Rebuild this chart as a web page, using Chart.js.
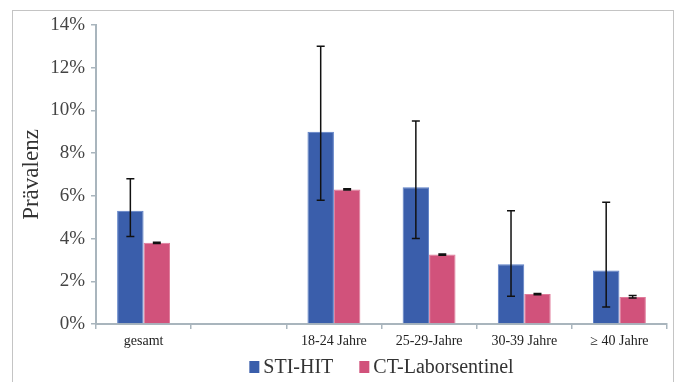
<!DOCTYPE html>
<html>
<head>
<meta charset="utf-8">
<script src="https://cdn.jsdelivr.net/npm/chart.js@4.4.0/dist/chart.umd.min.js"></script>
<style>
  html, body { margin:0; padding:0; background:#fff; }
  #wrap { position:relative; width:676px; height:382px; overflow:hidden; }
  #frame { position:absolute; left:12px; top:10px; width:662px; height:400px; border:1px solid #c4c4c4; box-sizing:border-box; }
  canvas { position:absolute; left:0; top:0; }
</style>
</head>
<body>
<div id="wrap">
  <div id="frame"></div>
  <canvas id="c" width="676" height="382"></canvas>
</div>
<script>
const categories = ['gesamt', '', '18-24 Jahre', '25-29-Jahre', '30-39 Jahre', '\u2265 40 Jahre'];
const stiHit     = [5.3, null, 9.0, 6.4, 2.8, 2.5];
const stiLow     = [4.1, null, 5.8, 4.0, 1.3, 0.8];
const stiHigh    = [6.8, null, 13.0, 9.5, 5.3, 5.7];
const ctLab      = [3.8, null, 6.3, 3.25, 1.4, 1.27];
const ctLow      = [3.77, null, 6.27, 3.22, 1.37, 1.22];
const ctHigh     = [3.83, null, 6.33, 3.28, 1.43, 1.33];
const yTicks     = [0, 2, 4, 6, 8, 10, 12, 14];

const errorBars = {
  id: 'errorBars',
  afterDatasetsDraw(chart) {
    const ctx = chart.ctx;
    const y = chart.scales.y;
    const sets = [[stiLow, stiHigh], [ctLow, ctHigh]];
    ctx.save();
    ctx.strokeStyle = '#111';
    ctx.lineWidth = 1.5;
    sets.forEach((s, di) => {
      const meta = chart.getDatasetMeta(di);
      meta.data.forEach((bar, i) => {
        if (s[0][i] == null) return;
        const x = bar.x;
        const y1 = y.getPixelForValue(s[0][i]);
        const y2 = y.getPixelForValue(s[1][i]);
        const cap = 4;
        ctx.beginPath();
        ctx.moveTo(x, y1); ctx.lineTo(x, y2);
        ctx.moveTo(x - cap, y1); ctx.lineTo(x + cap, y1);
        ctx.moveTo(x - cap, y2); ctx.lineTo(x + cap, y2);
        ctx.stroke();
      });
    });
    ctx.restore();
  }
};

const bottomLegend = {
  id: 'bottomLegend',
  afterDraw(chart) {
    const ctx = chart.ctx;
    const ca = chart.chartArea;
    const sets = chart.data.datasets;
    ctx.save();
    ctx.font = '20px "Liberation Serif"';
    ctx.textBaseline = 'middle';
    const boxW = 10, boxH = 12, gapBox = 4, gapItem = 26;
    const widths = sets.map(d => boxW + gapBox + ctx.measureText(d.label).width);
    const total = widths.reduce((a, b) => a + b, 0) + gapItem * (sets.length - 1);
    let x = (ca.left + ca.right) / 2 - total / 2;
    const yc = 368;
    sets.forEach((d, i) => {
      ctx.fillStyle = d.backgroundColor;
      ctx.fillRect(x, yc - boxH / 2 - 1, boxW, boxH);
      ctx.fillStyle = '#333';
      ctx.textAlign = 'left';
      ctx.fillText(d.label, x + boxW + gapBox, yc);
      x += widths[i] + gapItem;
    });
    ctx.restore();
  }
};

new Chart(document.getElementById('c'), {
  type: 'bar',
  data: {
    labels: categories,
    datasets: [
      { label: 'STI-HIT', data: stiHit, backgroundColor: '#3a5eab', borderColor: '#5b7fc6', borderWidth: 1 },
      { label: 'CT-Laborsentinel', data: ctLab, backgroundColor: '#d1527b', borderColor: '#e07a9a', borderWidth: 1 }
    ]
  },
  options: {
    responsive: false,
    animation: false,
    layout: { padding: { left: 14, top: 25, right: 9, bottom: 28 } },
    datasets: { bar: { categoryPercentage: 0.556, barPercentage: 1.0 } },
    plugins: {
      legend: { display: false },
      tooltip: { enabled: false }
    },
    scales: {
      x: {
        grid: { display: true, drawOnChartArea: false, offset: true, tickLength: 5, color: '#a9b5bd', lineWidth: 1.5 },
        border: { color: '#a9b5bd', width: 2 },
        ticks: { font: { family: 'Liberation Serif', size: 14 }, color: '#222', padding: 4, maxRotation: 0, autoSkip: false },
        afterFit(s) { s.height = 30; }
      },
      y: {
        min: 0, max: 14,
        afterBuildTicks(s) { s.ticks = yTicks.map(v => ({ value: v })); },
        grid: { display: true, drawOnChartArea: false, tickLength: 5, color: '#a9b5bd', lineWidth: 1.5 },
        border: { color: '#a9b5bd', width: 2 },
        ticks: { font: { family: 'Liberation Serif', size: 19 }, color: '#444', padding: 6, callback: v => v + '%' },
        title: { display: true, text: 'Prävalenz', font: { family: 'Liberation Serif', size: 23 }, color: '#333', padding: 4 },
        afterFit(s) { s.width = 82; }
      }
    }
  },
  plugins: [errorBars, bottomLegend]
});
</script>
</body>
</html>
